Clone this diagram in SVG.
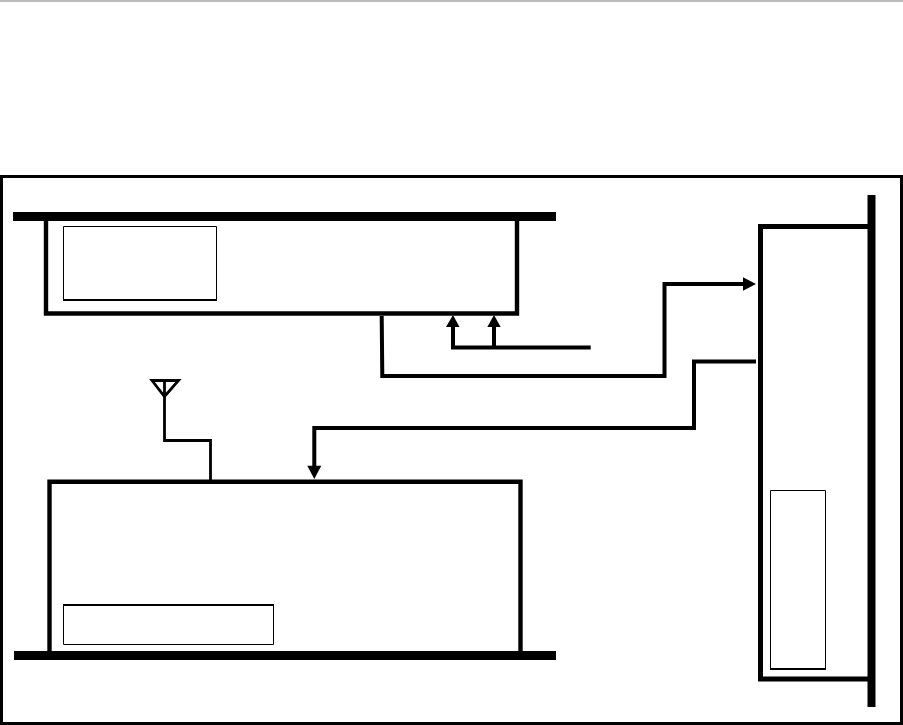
<svg xmlns="http://www.w3.org/2000/svg" width="903" height="725" viewBox="0 0 903 725">
<defs>
<style>
.c{fill:none;stroke:#000;stroke-width:4;stroke-linejoin:miter}
.a{fill:none;stroke:#000;stroke-width:2.8}
.h{fill:#000;stroke:none}
.bar{fill:#000}
.box{fill:none;stroke:#000;stroke-width:4.4}
.in{fill:none;stroke:#000;stroke-width:1}
</style>
</defs>
<rect width="903" height="725" fill="#fff"/>
<rect x="0" y="0" width="903" height="2" fill="#bbb"/>
<rect id="frame" x="1.5" y="176.5" width="900" height="547" fill="none" stroke="#000" stroke-width="3"/>
<g id="top-unit">
<rect class="bar" x="13" y="212" width="543" height="9"/>
<path class="box" d="M46 221V313.5H517V221"/>
<g id="top-inner"><path class="in" d="M63.500 300V226.500H216.500V300"/><rect class="bar" x="63" y="299" width="154" height="2"/></g>
</g>
<g id="bottom-unit">
<rect class="bar" x="14" y="651" width="542" height="9"/>
<path class="box" d="M49.500 651V481.700H520.500V651"/>
<g id="bottom-inner"><path class="in" d="M63.500 605V644.500H273.500V605"/><rect class="bar" x="63" y="604" width="211" height="2"/></g>
</g>
<g id="right-unit">
<rect class="bar" x="867.500" y="195" width="8" height="512"/>
<path d="M868 226.500H760.500V679H868" fill="none" stroke="#000" stroke-width="5"/>
<g id="right-inner"><path class="in" d="M770.500 669V490.500H825.500V669"/><rect class="bar" x="770" y="668" width="56" height="2"/></g>
</g>
<g id="antenna"><path class="a" d="M152 380.500H178.500L164.500 396.500ZM164.500 380.500V396"/></g>
<g id="connectors">
<path class="a" d="M164.500 394V440.500H210.500V480"/>
<path class="c" d="M381.700 316L382.300 376H664.500V284H745"/>
<polygon class="h" points="743,277.300 756,284 743,290.700"/>
<path class="c" d="M756 361.500H694V428H314.300V468"/>
<polygon class="h" points="307.300,465.700 321.300,465.700 314.300,479"/>
<path class="c" d="M590.700 347.500H453V326M494 347.500V326"/>
<polygon class="h" points="446,327 459.500,327 453,315"/>
<polygon class="h" points="487.300,327 500.700,327 494,315"/>
</g>
</svg>
